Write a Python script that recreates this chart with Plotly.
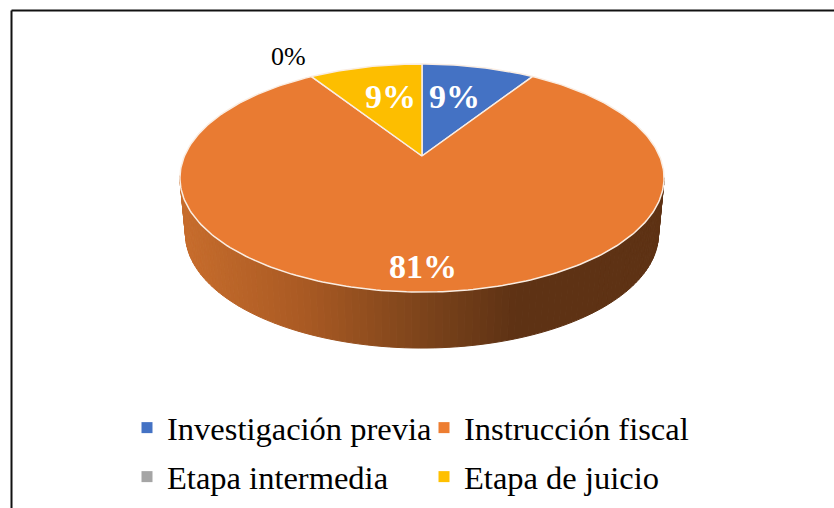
import math
import plotly.graph_objects as go

categories = ["Investigación previa", "Instrucción fiscal", "Etapa intermedia", "Etapa de juicio"]
percents = [9, 81, 0, 9]
colors = ["#4472C4", "#ED7D31", "#A5A5A5", "#FFC000"]
top_color = ["#4472C4", "#E97B32", "#A5A5A5", "#FDBE00"]
label_colors = ["white", "white", "black", "white"]
label_bold = [True, True, False, True]
label_radius = [0.63, 0.84, 1.22, 0.63]
label_shift = [(-5, 0), (1, 0), (-3, 5), (6, 0)]
legend_rows = ["legend", "legend", "legend2", "legend2"]

CX, CY, A, B, K, DEPTH, SHRINK = 422, 156, 237.5, 109.8, 0.193, 56, 0.977
stops = [(185, (198, 108, 44)), (300, (170, 90, 35)), (420, (125, 68, 27)), (515, (94, 50, 20)), (670, (94, 50, 20))]


def project(angle, r=1.0, down=0.0):
    a = math.radians(angle)
    d = 1 + K * r * math.cos(a)
    s = SHRINK if down else 1.0
    return (CX + s * A * r * math.sin(a) / d,
            CY - B * r * math.cos(a) / d + down)


def shade(x):
    for (x0, c0), (x1, c1) in zip(stops, stops[1:]):
        if x <= x1:
            t = max(0, (x - x0) / (x1 - x0))
            return "rgb(%d,%d,%d)" % tuple(round(p + (q - p) * t) for p, q in zip(c0, c1))
    return "rgb(94,50,20)"


fig = go.Figure()
total = sum(percents)
starts, c = [], 0
for p in percents:
    starts.append(c * 360 / total)
    c += p

# rim of the disc: the front wall, one narrow strip at a time
step = 1.5
ang = 101.0
while ang < 259:
    p0, p1 = project(ang), project(ang + step)
    p2, p3 = project(ang + step, down=DEPTH), project(ang, down=DEPTH)
    col = shade((p0[0] + p1[0]) / 2)
    fig.add_trace(go.Scatter(x=[p0[0], p1[0], p2[0], p3[0], p0[0]], y=[p0[1], p1[1], p2[1], p3[1], p0[1]],
                             mode="lines", fill="toself", fillcolor=col, line=dict(color=col, width=1),
                             hoverinfo="skip", showlegend=False))
    ang += step

# top face
for i, p in enumerate(percents):
    if p == 0:
        continue
    sweep = p * 360 / total
    n = max(2, int(sweep))
    pts = [project(starts[i] + sweep * j / n) for j in range(n + 1)]
    xs = [CX] + [q[0] for q in pts] + [CX]
    ys = [CY] + [q[1] for q in pts] + [CY]
    fig.add_trace(go.Scatter(x=xs, y=ys, mode="lines", fill="toself", fillcolor=top_color[i],
                             line=dict(color="#FAEDE2", width=1.5), hoverinfo="skip", showlegend=False))

# legend entries
for name, col, row in zip(categories, colors, legend_rows):
    fig.add_trace(go.Scatter(x=[None], y=[None], mode="markers", name=name, legend=row,
                             marker=dict(symbol="square", size=11, color=col)))

# percentage labels
for i, p in enumerate(percents):
    mid = starts[i] + p * 180 / total
    x, y = project(mid, label_radius[i])
    txt = f"<b>{p}%</b>" if label_bold[i] else f"{p}%"
    fig.add_annotation(x=x, y=y, text=txt, showarrow=False, xshift=label_shift[i][0], yshift=label_shift[i][1],
                       font=dict(family="Liberation Serif", size=34 if label_bold[i] else 26, color=label_colors[i]))

fig.add_shape(type="line", xref="paper", yref="paper", x0=11.5/834, x1=1, y0=1-10.5/508, y1=1-10.5/508,
              line=dict(color="#111111", width=2))
fig.add_shape(type="line", xref="paper", yref="paper", x0=11.5/834, x1=11.5/834, y0=0, y1=1-10.5/508,
              line=dict(color="#111111", width=2))

legend_style = dict(orientation="h", xanchor="left", yanchor="middle",
                    entrywidth=252, entrywidthmode="pixels", bgcolor="rgba(0,0,0,0)",
                    font=dict(family="Liberation Serif", size=32.5, color="#000000"))
fig.update_layout(
    width=834, height=508, margin=dict(l=0, r=0, t=0, b=0),
    paper_bgcolor="white", plot_bgcolor="white",
    xaxis=dict(range=[0, 834], visible=False, fixedrange=True),
    yaxis=dict(range=[508, 0], visible=False, fixedrange=True),
    showlegend=True,
    legend=dict(x=127/834, y=1-428/508, **legend_style),
    legend2=dict(x=127/834, y=1-477/508, **legend_style),
)
fig.write_html("out.html", config={"displayModeBar": False},
               post_script="document.body.style.margin='0';")
